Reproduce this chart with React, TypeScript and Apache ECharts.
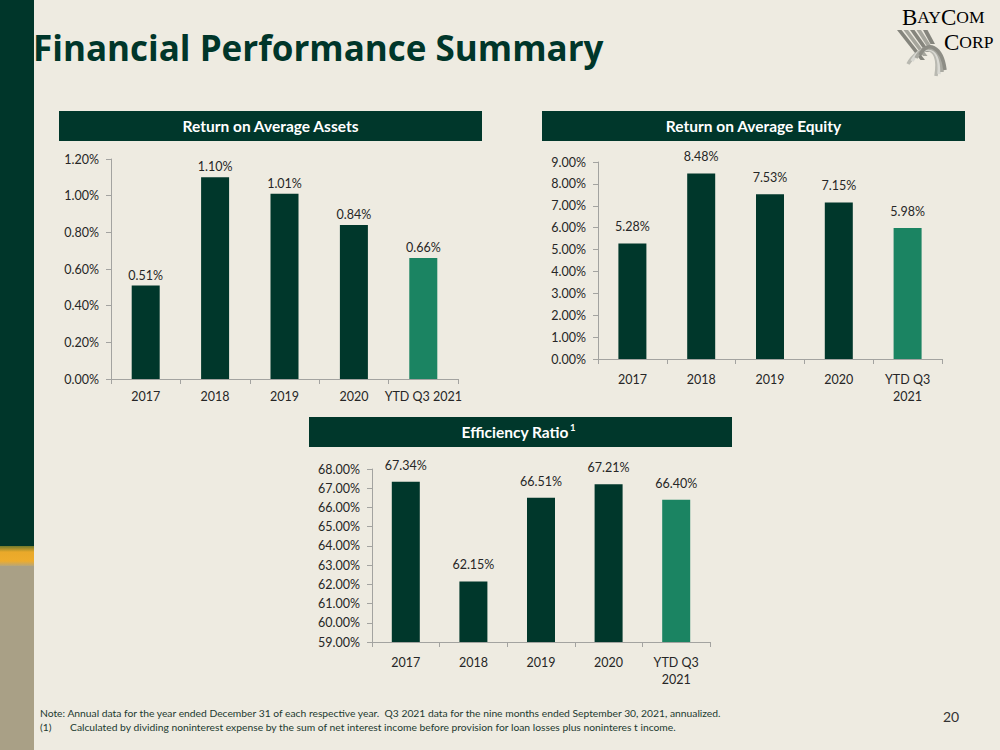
import React, { useEffect, useRef } from "react";
import * as echarts from "echarts";

const categoriesOneLine = ["2017", "2018", "2019", "2020", "YTD Q3 2021"];
const categoriesTwoLine = ["2017", "2018", "2019", "2020", "YTD Q3\n2021"];
const roaaValues = [0.51, 1.1, 1.01, 0.84, 0.66];
const roaeValues = [5.28, 8.48, 7.53, 7.15, 5.98];
const efficiencyValues = [67.34, 62.15, 66.51, 67.21, 66.4];
const roaaTicks = { min: 0, max: 1.2, interval: 0.2 };
const roaeTicks = { min: 0, max: 9, interval: 1 };
const efficiencyTicks = { min: 59, max: 68, interval: 1 };

const DARK = "#00372b";
const LIGHT = "#1b8462";
const BG = "#eeebe1";
const FONT = "Lato, 'Open Sans', sans-serif";
const SERIF = "'Liberation Serif', 'DejaVu Serif', serif";

const pct = (v: number) => v.toFixed(2) + "%";

export default function App() {
  const ref = useRef<HTMLDivElement>(null);
  useEffect(() => {
    if (!ref.current) return;
    const chart = echarts.init(ref.current, undefined, { renderer: "svg" });

    const grids = [
      { left: 111, top: 159, width: 347, height: 220 },
      { left: 598, top: 162, width: 344, height: 197 },
      { left: 372, top: 469, width: 338, height: 173 },
    ];
    const cats = [categoriesOneLine, categoriesTwoLine, categoriesTwoLine];
    const ticks = [roaaTicks, roaeTicks, efficiencyTicks];
    const values = [roaaValues, roaeValues, efficiencyValues];
    const labelDist = [4, 10, 10];
    const xMargin = [9, 12, 12];

    const axisLine = { show: true, lineStyle: { color: "#a3a3a0", width: 1 } };
    const axisTick = { show: true, length: 5, lineStyle: { color: "#a3a3a0" } };

    const header = (x: number, y: number, text: string) => ({
      type: "group",
      children: [
        { type: "rect", shape: { x, y, width: 423, height: 30 }, style: { fill: DARK } },
        {
          type: "text",
          x: x + 211.5,
          y: y + 15,
          style: {
            text,
            fill: "#ffffff",
            font: `bold 15.5px ${FONT}`,
            align: "center",
            verticalAlign: "middle",
          },
        },
      ],
    });

    const stripes = [0, 1, 2, 3, 4].map((k) => ({
      type: "polygon",
      shape: {
        points: [
          [897 + k * 6.5, 30],
          [901.5 + k * 6.5, 30],
          [925 + k * 2.5, 60 - k * 4],
          [920.5 + k * 2.5, 60 - k * 4],
        ],
      },
      style: { fill: k % 2 === 0 ? "#85857d" : "#a5a59c" },
    }));

    const ribbons = [0, 1, 2, 3].map((k) => ({
      type: "bezierCurve",
      shape: {
        x1: 908 + k * 4,
        y1: 64 - k * 3,
        cpx1: 918 + k * 3,
        cpy1: 46 - k * 2,
        cpx2: 942,
        cpy2: 40 + k * 2,
        x2: 936 + k * 3,
        y2: 76 - k * 2,
      },
      style: {
        stroke: ["#b9b9b1", "#d9d9d3", "#a9a9a1", "#8d8d85"][k],
        lineWidth: 3.5,
        fill: "none",
      },
    }));

    const option: any = {
      animation: false,
      backgroundColor: BG,
      textStyle: { fontFamily: FONT },
      grid: grids.map((g) => ({ ...g, containLabel: false })),
      xAxis: grids.map((_, i) => ({
        type: "category",
        gridIndex: i,
        data: cats[i],
        axisLine,
        axisTick: { ...axisTick, alignWithLabel: false },
        axisLabel: { color: "#262626", fontSize: 12.5, margin: xMargin[i], lineHeight: 17, fontFamily: FONT, interval: 0 },
        splitLine: { show: false },
      })),
      yAxis: grids.map((_, i) => ({
        type: "value",
        gridIndex: i,
        min: ticks[i].min,
        max: ticks[i].max,
        interval: ticks[i].interval,
        axisLine,
        axisTick,
        splitLine: { show: false },
        axisLabel: { color: "#262626", fontSize: 12.5, margin: 12, fontFamily: FONT, formatter: (v: number) => pct(v) },
      })),
      series: grids.map((_, i) => ({
        type: "bar",
        xAxisIndex: i,
        yAxisIndex: i,
        barWidth: 28,
        data: values[i].map((v, j) => ({
          value: v,
          itemStyle: { color: j === values[i].length - 1 ? LIGHT : DARK },
        })),
        label: {
          show: true,
          position: "top",
          distance: labelDist[i],
          color: "#262626",
          fontSize: 12.5,
          fontFamily: FONT,
          formatter: (p: any) => pct(p.value),
        },
      })),
      graphic: [
        // left sidebar
        { type: "rect", shape: { x: 0, y: 0, width: 34, height: 546 }, style: { fill: "#00362a" } },
        {
          type: "rect",
          shape: { x: 0, y: 546, width: 34, height: 20 },
          style: {
            fill: new echarts.graphic.LinearGradient(0, 0, 0, 1, [
              { offset: 0, color: "#6f7a2c" },
              { offset: 0.3, color: "#e9a92a" },
              { offset: 0.75, color: "#eeac2c" },
              { offset: 1, color: "#b8a678" },
            ]),
          },
        },
        { type: "rect", shape: { x: 0, y: 566, width: 34, height: 184 }, style: { fill: "#a9a086" } },
        // title
        {
          type: "text",
          x: 33,
          y: 47,
          style: {
            text: "Financial Performance Summary",
            fill: "#00362a",
            font: `bold 35px 'Open Sans', sans-serif`,
            verticalAlign: "middle",
          },
        },
        // headers
        header(59, 111, "Return on Average Assets"),
        header(542, 111, "Return on Average Equity"),
        { type: "rect", shape: { x: 309, y: 417, width: 423, height: 30 }, style: { fill: DARK } },
        {
          type: "text",
          x: 515,
          y: 432,
          style: {
            text: "Efficiency Ratio",
            fill: "#ffffff",
            font: `bold 15.5px ${FONT}`,
            align: "center",
            verticalAlign: "middle",
          },
        },
        {
          type: "text",
          x: 570,
          y: 427,
          style: {
            text: "1",
            fill: "#ffffff",
            font: `bold 9.5px ${FONT}`,
            align: "left",
            verticalAlign: "middle",
          },
        },
        // footnotes
        {
          type: "text",
          x: 40,
          y: 713,
          style: {
            text: "Note: Annual data for the year ended December 31 of each respective year.  Q3 2021 data for the nine months ended September 30, 2021, annualized.",
            fill: "#1c3a30",
            font: `10.3px ${FONT}`,
            verticalAlign: "middle",
          },
        },
        {
          type: "text",
          x: 40,
          y: 727,
          style: {
            text: "(1)",
            fill: "#1c3a30",
            font: `10.3px ${FONT}`,
            verticalAlign: "middle",
          },
        },
        {
          type: "text",
          x: 70,
          y: 727,
          style: {
            text: "Calculated by dividing noninterest expense by the sum of net interest income before provision for loan losses plus noninteres t income.",
            fill: "#1c3a30",
            font: `10.3px ${FONT}`,
            verticalAlign: "middle",
          },
        },
        {
          type: "text",
          x: 951,
          y: 716,
          style: { text: "20", fill: "#333333", font: `14px ${FONT}`, align: "center", verticalAlign: "middle" },
        },
        // logo
        ...stripes,
        ...ribbons,
        {
          type: "text",
          x: 902,
          y: 17,
          style: {
            text: "{b|B}{s|AY}{b|C}{s|OM}",
            verticalAlign: "middle",
            rich: {
              b: { color: "#7c7b70", fontSize: 23, lineHeight: 18, fontFamily: SERIF },
              s: { color: "#7c7b70", fontSize: 17.5, lineHeight: 18, fontFamily: SERIF },
            },
          },
        },
        {
          type: "text",
          x: 944,
          y: 42,
          style: {
            text: "{b|C}{s|ORP}",
            verticalAlign: "middle",
            rich: {
              b: { color: "#7c7b70", fontSize: 23, lineHeight: 18, fontFamily: SERIF },
              s: { color: "#7c7b70", fontSize: 17.5, lineHeight: 18, fontFamily: SERIF },
            },
          },
        },
      ],
    };
    chart.setOption(option);
    return () => chart.dispose();
  }, []);

  return (
    <div
      ref={ref}
      style={{ position: "fixed", left: 0, top: 0, width: 1000, height: 750 }}
    />
  );
}
